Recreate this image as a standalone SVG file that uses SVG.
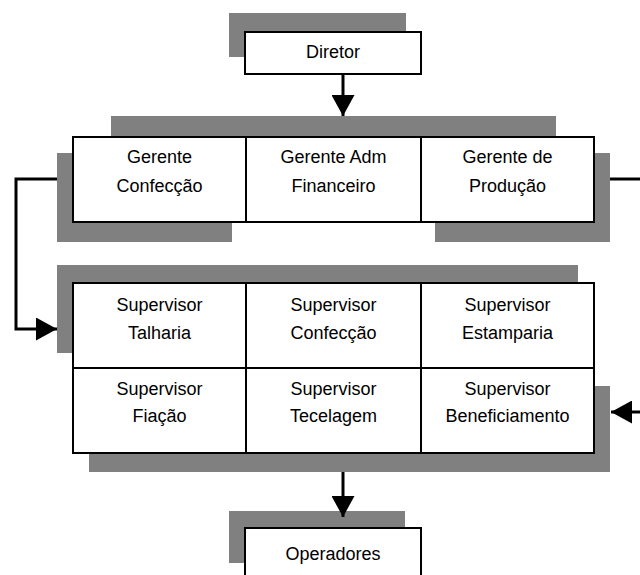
<svg xmlns="http://www.w3.org/2000/svg" width="640" height="575" viewBox="0 0 640 575">
<style>
.sh{fill:#808080}
.bx{fill:#fff;stroke:#000;stroke-width:2}
.t{font-family:"Liberation Sans",Arial,sans-serif;font-size:18px;text-anchor:middle;fill:#000}
.c{fill:none;stroke:#000;stroke-width:3}
</style>
<defs>
<marker id="ah" viewBox="0 0 21 23" refX="21" refY="11.5" markerWidth="21" markerHeight="23" orient="auto" markerUnits="userSpaceOnUse">
<path d="M0,0 L21,11.5 L0,23 Z" fill="#000"/>
</marker>
</defs>
<rect width="640" height="575" fill="#fff"/>

<g id="diretor">
<rect class="sh" x="229" y="13" width="177" height="44"/>
<rect class="bx" x="245" y="32" width="176" height="42"/>
<text class="t" x="333" y="58">Diretor</text>
</g>

<g id="gerentes-sombra">
<rect class="sh" x="111" y="116" width="445" height="30"/>
<rect class="sh" x="57" y="153" width="175" height="89"/>
<rect class="sh" x="435" y="153" width="175" height="89"/>
</g>
<g id="gerente-confeccao">
<rect class="bx" x="73" y="137" width="173" height="85"/>
<text class="t" x="159.5" y="163">Gerente</text>
<text class="t" x="159.5" y="192">Confecção</text>
</g>
<g id="gerente-adm">
<rect class="bx" x="246" y="137" width="175" height="85"/>
<text class="t" x="333.5" y="163">Gerente Adm</text>
<text class="t" x="333.5" y="192">Financeiro</text>
</g>
<g id="gerente-producao">
<rect class="bx" x="421" y="137" width="173" height="85"/>
<text class="t" x="507.5" y="163">Gerente de</text>
<text class="t" x="507.5" y="192">Produção</text>
</g>

<g id="supervisores-sombra">
<rect class="sh" x="57" y="265" width="521" height="88"/>
<rect class="sh" x="89" y="386" width="521" height="86"/>
</g>
<g id="sup-talharia">
<rect class="bx" x="73" y="283" width="173" height="85"/>
<text class="t" x="159.5" y="311">Supervisor</text>
<text class="t" x="159.5" y="339">Talharia</text>
</g>
<g id="sup-confeccao">
<rect class="bx" x="246" y="283" width="175" height="85"/>
<text class="t" x="333.5" y="311">Supervisor</text>
<text class="t" x="333.5" y="339">Confecção</text>
</g>
<g id="sup-estamparia">
<rect class="bx" x="421" y="283" width="173" height="85"/>
<text class="t" x="507.5" y="311">Supervisor</text>
<text class="t" x="507.5" y="339">Estamparia</text>
</g>
<g id="sup-fiacao">
<rect class="bx" x="73" y="368" width="173" height="85"/>
<text class="t" x="159.5" y="395">Supervisor</text>
<text class="t" x="159.5" y="422">Fiação</text>
</g>
<g id="sup-tecelagem">
<rect class="bx" x="246" y="368" width="175" height="85"/>
<text class="t" x="333.5" y="395">Supervisor</text>
<text class="t" x="333.5" y="422">Tecelagem</text>
</g>
<g id="sup-beneficiamento">
<rect class="bx" x="421" y="368" width="173" height="85"/>
<text class="t" x="507.5" y="395">Supervisor</text>
<text class="t" x="507.5" y="422">Beneficiamento</text>
</g>

<g id="operadores">
<rect class="sh" x="229" y="511" width="176" height="52"/>
<rect class="bx" x="245" y="528" width="176" height="60"/>
<text class="t" x="333" y="560">Operadores</text>
</g>

<g id="connectors">
<path class="c" d="M343,74 V116" marker-end="url(#ah)"/>
<path class="c" d="M57,179 H16 V329 H57" marker-end="url(#ah)"/>
<path class="c" d="M610,179 H640"/>
<path class="c" d="M640,412 H611" marker-end="url(#ah)"/>
<path class="c" d="M343,472 V517" marker-end="url(#ah)"/>
</g>
</svg>
